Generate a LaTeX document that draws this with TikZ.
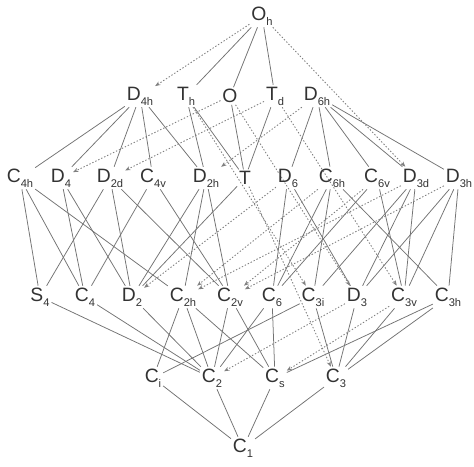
\documentclass[tikz,border=0pt]{standalone}
\usepackage{fontspec}
\setmainfont{Liberation Sans}
\usepackage{tikz}
\usetikzlibrary{arrows.meta}

\newcommand{\pg}[2]{#1\raisebox{-0.5ex}{\fontsize{9.5}{10}\selectfont #2}}
\tikzset{
  grp/.style={inner sep=1.5pt, font=\fontsize{16.5}{18}\selectfont, text=black!80},
  nsub/.style={draw=black!55, line width=0.65pt},
  csub/.style={draw=black!50, line width=0.75pt, dash pattern=on 1.2pt off 1.6pt,
    -{Stealth[length=4.5pt,width=3.5pt]}},
}

\begin{document}
\begin{tikzpicture}[x=0.03cm, y=-0.03cm]
  \useasboundingbox (0,0) rectangle (474,466);

  \node[grp] (Oh) at (262,16) {\pg{O}{h}};

  \node[grp] (D4h) at (140,96) {\pg{D}{4h}};
  \node[grp] (Th) at (186,96) {\pg{T}{h}};
  \node[grp] (O) at (230,96) {O};
  \node[grp] (Td) at (275,96) {\pg{T}{d}};
  \node[grp] (D6h) at (317,96) {\pg{D}{6h}};

  \node[grp] (C4h) at (20,178) {\pg{C}{4h}};
  \node[grp] (D4) at (61,178) {\pg{D}{4}};
  \node[grp] (D2d) at (110,178) {\pg{D}{2d}};
  \node[grp] (C4v) at (153,178) {\pg{C}{4v}};
  \node[grp] (D2h) at (206,178) {\pg{D}{2h}};
  \node[grp] (T) at (245,178) {T};
  \node[grp] (D6) at (288,178) {\pg{D}{6}};
  \node[grp] (C6h) at (332,178) {\pg{C}{6h}};
  \node[grp] (C6v) at (377,178) {\pg{C}{6v}};
  \node[grp] (D3d) at (416,178) {\pg{D}{3d}};
  \node[grp] (D3h) at (459,178) {\pg{D}{3h}};

  \node[grp] (S4) at (40,297) {\pg{S}{4}};
  \node[grp] (C4) at (85,297) {\pg{C}{4}};
  \node[grp] (D2) at (132,297) {\pg{D}{2}};
  \node[grp] (C2h) at (183,297) {\pg{C}{2h}};
  \node[grp] (C2v) at (230,297) {\pg{C}{2v}};
  \node[grp] (C6) at (272,297) {\pg{C}{6}};
  \node[grp] (C3i) at (313,297) {\pg{C}{3i}};
  \node[grp] (D3) at (357,297) {\pg{D}{3}};
  \node[grp] (C3v) at (404,297) {\pg{C}{3v}};
  \node[grp] (C3h) at (448,297) {\pg{C}{3h}};

  \node[grp] (Ci) at (153,378) {\pg{C}{i}};
  \node[grp] (C2) at (212,378) {\pg{C}{2}};
  \node[grp] (Cs) at (275,378) {\pg{C}{s}};
  \node[grp] (C3) at (336,378) {\pg{C}{3}};

  \node[grp] (C1) at (243,448) {\pg{C}{1}};

  % invariant subgroups
  \draw[nsub] (Oh) -- (Th) (Oh) -- (O) (Oh) -- (Td);
  \draw[nsub] (D4h) -- (C4h) (D4h) -- (D4) (D4h) -- (D2d) (D4h) -- (C4v) (D4h) -- (D2h);
  \draw[nsub] (Th) -- (T) (Th) -- (D2h) (O) -- (T) (Td) -- (T);
  \draw[nsub] (D6h) -- (D6) (D6h) -- (C6h) (D6h) -- (C6v) (D6h) -- (D3d) (D6h) -- (D3h);
  \draw[nsub] (C4h) -- (S4) (C4h) -- (C4) (C4h) -- (C2h);
  \draw[nsub] (D4) -- (C4) (D4) -- (D2);
  \draw[nsub] (D2d) -- (S4) (D2d) -- (D2) (D2d) -- (C2v);
  \draw[nsub] (C4v) -- (C4) (C4v) -- (C2v);
  \draw[nsub] (D2h) -- (D2) (D2h) -- (C2h) (D2h) -- (C2v);
  \draw[nsub] (T) -- (D2);
  \draw[nsub] (D6) -- (C6) (D6) -- (D3);
  \draw[nsub] (C6h) -- (C6) (C6h) -- (C3i) (C6h) -- (C3h);
  \draw[nsub] (C6v) -- (C6) (C6v) -- (C3v);
  \draw[nsub] (D3d) -- (C3i) (D3d) -- (D3) (D3d) -- (C3v);
  \draw[nsub] (D3h) -- (D3) (D3h) -- (C3v) (D3h) -- (C3h);
  \draw[nsub] (S4) -- (C2) (C4) -- (C2) (D2) -- (C2);
  \draw[nsub] (C2h) -- (Ci) (C2h) -- (C2) (C2h) -- (Cs);
  \draw[nsub] (C2v) -- (C2) (C2v) -- (Cs);
  \draw[nsub] (C6) -- (C2) (C6) -- (Cs);
  \draw[nsub] (C3i) -- (Ci) (C3i) -- (C3) (D3) -- (C3) (C3v) -- (C3);
  \draw[nsub] (C3h) -- (C3) (C3h) -- (Cs);
  \draw[nsub] (Ci) -- (C1) (C2) -- (C1) (Cs) -- (C1) (C3) -- (C1);

  % non-invariant subgroups
  \draw[csub] (Oh) -- (D4h);
  \draw[csub] (Oh) -- (D3d);
  \draw[csub] (Th) -- (C3i);
  \draw[csub] (O) -- (D4);
  \draw[csub] (O) -- (D3);
  \draw[csub] (Td) -- (D2d);
  \draw[csub] (Td) -- (C3v);
  \draw[csub] (D6h) -- (D2h);
  \draw[csub] (T) -- (C3);
  \draw[csub] (D6) -- (D2);
  \draw[csub] (C6h) -- (C2h);
  \draw[csub] (C6v) -- (C2v);
  \draw[csub] (D3d) -- (C2h);
  \draw[csub] (D3h) -- (C2v);
  \draw[csub] (D3) -- (C2);
  \draw[csub] (C3v) -- (Cs);
\end{tikzpicture}
\end{document}
